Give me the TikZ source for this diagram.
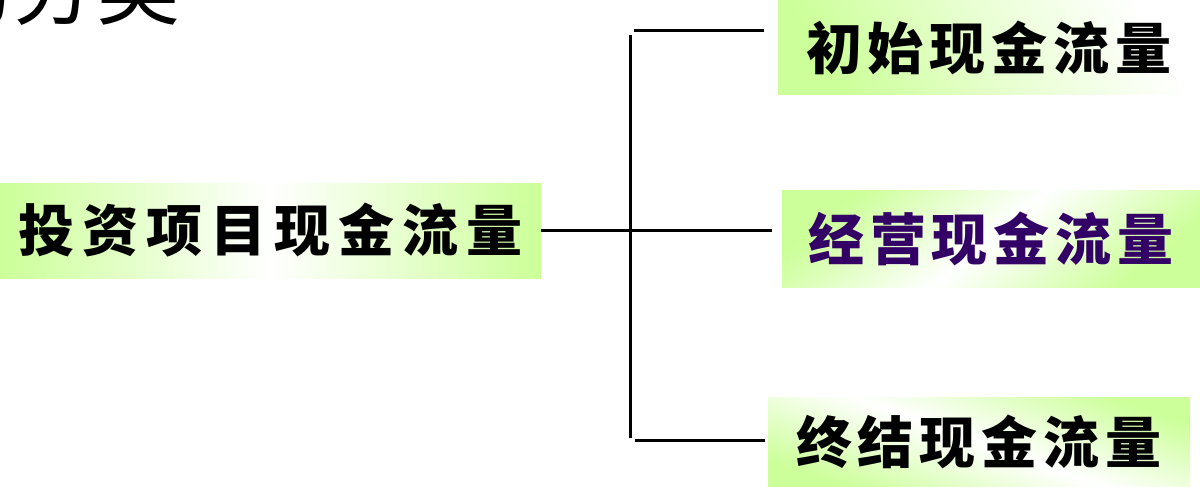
\documentclass[tikz,border=0pt]{standalone}
\usepackage{fontspec}
\newfontfamily\cjk{Noto Sans CJK SC}
\usetikzlibrary{fadings}
\definecolor{lg}{RGB}{204,255,153}
\definecolor{purp}{RGB}{51,0,102}
\newcommand\kk{\kern6pt}
\newcommand\kl{\kern8pt}
\tikzset{
  boxtext/.style={font=\cjk\bfseries\fontsize{56pt}{60pt}\selectfont, inner sep=0pt},
  conn/.style={line width=3pt, black},
}
\begin{document}
\begin{tikzpicture}[x=1pt,y=-1pt]
\clip (0,0) rectangle (1200,487);
\fill[white] (0,0) rectangle (1200,487);
% heading (partly cut off, as in the reference)
\node[font=\cjk\fontsize{84pt}{90pt}\selectfont, inner sep=0pt, anchor=base] (head) at (55,19) {的分类};
% boxes
\node[boxtext, minimum width=541pt, minimum height=95pt, left color=lg, right color=lg, middle color=white] (L) at (270.5,230.5) {投\kl 资\kl 项\kl 目\kl 现\kl 金\kl 流\kl 量};
\node[boxtext, minimum width=422pt, minimum height=95pt, bottom color=lg, top color=white, middle color=lg!45!white, shading angle=-60] (R1) at (989,47.5) {初\kk 始\kk 现\kk 金\kk 流\kk 量};
\node[boxtext, text=purp, minimum width=418pt, minimum height=97pt, left color=lg, right color=lg, middle color=white, shading angle=40] (R2) at (991,238.5) {经\kk 营\kk 现\kk 金\kk 流\kk 量};
\node[boxtext, minimum width=422pt, minimum height=90pt, left color=lg, right color=lg, middle color=white, shading angle=-20] (R3) at (979,442) {终\kk 结\kk 现\kk 金\kk 流\kk 量};
% connectors
\coordinate (vt) at (630,35);
\coordinate (vb) at (630,438);
\coordinate (ta) at (634,31);
\coordinate (ba) at (635,440);
\draw[conn] (vt) -- (vb);
\draw[conn, shorten >=10pt] (L.east) -- (L.east -| R2.west);
\draw[conn, shorten >=14pt] (ta) -- (ta -| R1.west);
\draw[conn, shorten >=3pt] (ba) -- (ba -| R3.west);
\end{tikzpicture}
\end{document}
